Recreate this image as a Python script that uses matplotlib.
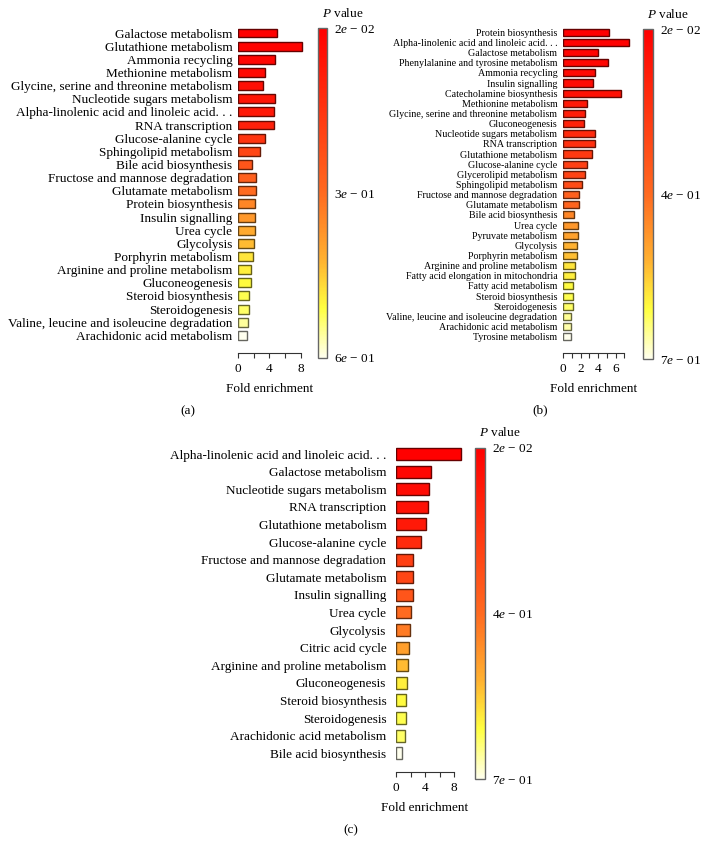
import numpy as np
import matplotlib
matplotlib.use('Agg')
import matplotlib.pyplot as plt
from matplotlib.colors import LinearSegmentedColormap, Normalize
from matplotlib.cm import ScalarMappable

plt.rcParams['font.family'] = ['Liberation Serif', 'DejaVu Serif']
plt.rcParams['mathtext.fontset'] = 'custom'
plt.rcParams['mathtext.rm'] = 'Liberation Serif'
plt.rcParams['mathtext.it'] = 'Liberation Serif:italic'

# panel (a)
labels_a = ['Galactose metabolism', 'Glutathione metabolism', 'Ammonia recycling',
            'Methionine metabolism', 'Glycine, serine and threonine metabolism',
            'Nucleotide sugars metabolism', 'Alpha-linolenic acid and linoleic acid. . .',
            'RNA transcription', 'Glucose-alanine cycle', 'Sphingolipid metabolism',
            'Bile acid biosynthesis', 'Fructose and mannose degradation',
            'Glutamate metabolism', 'Protein biosynthesis', 'Insulin signalling',
            'Urea cycle', 'Glycolysis', 'Porphyrin metabolism',
            'Arginine and proline metabolism', 'Gluconeogenesis', 'Steroid biosynthesis',
            'Steroidogenesis', 'Valine, leucine and isoleucine degradation',
            'Arachidonic acid metabolism']
fold_a = [4.96, 8.18, 4.66, 3.48, 3.22, 4.66, 4.58, 4.62, 3.48, 2.8, 1.74, 2.29,
          2.33, 2.2, 2.2, 2.12, 2.03, 1.9, 1.61, 1.61, 1.44, 1.44, 1.27, 1.19]
pval_a = [0.018, 0.030, 0.035, 0.047, 0.059, 0.076, 0.088, 0.105, 0.164, 0.210,
          0.251, 0.280, 0.309, 0.356, 0.385, 0.414, 0.437, 0.484, 0.495, 0.507,
          0.519, 0.530, 0.559, 0.600]
cbar_labels_a = ['2$e$ − 02', '3$e$ − 01', '6$e$ − 01']

# panel (b)
labels_b = ['Protein biosynthesis', 'Alpha-linolenic acid and linoleic acid. . .',
            'Galactose metabolism', 'Phenylalanine and tyrosine metabolism',
            'Ammonia recycling', 'Insulin signalling', 'Catecholamine biosynthesis',
            'Methionine metabolism', 'Glycine, serine and threonine metabolism',
            'Gluconeogenesis', 'Nucleotide sugars metabolism', 'RNA transcription',
            'Glutathione metabolism', 'Glucose-alanine cycle', 'Glycerolipid metabolism',
            'Sphingolipid metabolism', 'Fructose and mannose degradation',
            'Glutamate metabolism', 'Bile acid biosynthesis', 'Urea cycle',
            'Pyruvate metabolism', 'Glycolysis', 'Porphyrin metabolism',
            'Arginine and proline metabolism', 'Fatty acid elongation in mitochondria',
            'Fatty acid metabolism', 'Steroid biosynthesis', 'Steroidogenesis',
            'Valine, leucine and isoleucine degradation', 'Arachidonic acid metabolism',
            'Tyrosine metabolism']
fold_b = [5.3, 7.5, 4.0, 5.1, 3.65, 3.46, 6.58, 2.74, 2.54, 2.43, 3.65, 3.65, 3.31,
          2.74, 2.54, 2.2, 1.82, 1.82, 1.29, 1.67, 1.67, 1.56, 1.56, 1.33, 1.33,
          1.1, 1.1, 1.1, 0.95, 0.95, 0.87]
pval_b = [0.018, 0.025, 0.032, 0.038, 0.052, 0.059, 0.073, 0.100, 0.113, 0.127,
          0.154, 0.168, 0.202, 0.223, 0.236, 0.264, 0.325, 0.339, 0.414, 0.448,
          0.468, 0.495, 0.516, 0.564, 0.577, 0.591, 0.605, 0.618, 0.645, 0.659, 0.700]
cbar_labels_b = ['2$e$ − 02', '4$e$ − 01', '7$e$ − 01']

# panel (c)
labels_c = ['Alpha-linolenic acid and linoleic acid. . .', 'Galactose metabolism',
            'Nucleotide sugars metabolism', 'RNA transcription', 'Glutathione metabolism',
            'Glucose-alanine cycle', 'Fructose and mannose degradation',
            'Glutamate metabolism', 'Insulin signalling', 'Urea cycle', 'Glycolysis',
            'Citric acid cycle', 'Arginine and proline metabolism', 'Gluconeogenesis',
            'Steroid biosynthesis', 'Steroidogenesis', 'Arachidonic acid metabolism',
            'Bile acid biosynthesis']
fold_c = [8.92, 4.83, 4.51, 4.41, 4.1, 3.4, 2.39, 2.3, 2.3, 2.07, 1.98, 1.84, 1.61,
          1.56, 1.33, 1.33, 1.2, 0.83]
pval_c = [0.018, 0.038, 0.059, 0.073, 0.100, 0.154, 0.223, 0.243, 0.291, 0.359,
          0.393, 0.461, 0.509, 0.577, 0.591, 0.605, 0.618, 0.700]
cbar_labels_c = ['2$e$ − 02', '4$e$ − 01', '7$e$ − 01']

cmap = LinearSegmentedColormap.from_list(
    'pv', [(0, '#ff0000'), (0.5, '#ff6a20'), (0.7, '#ffb030'),
           (0.85, '#ffff40'), (1, '#ffffee')])

W, H = 705, 857


def rect(left, top, right, bottom):
    return [left / W, 1 - bottom / H, (right - left) / W, (bottom - top) / H]


def panel(labels, fold, pvals, cbar_labels, letter, main_px, xmax, ypad, xticks,
          xticklabels, fsize, bar_h, cbar_px, letter_px, label_pad):
    fig = plt.gcf()
    ax = fig.add_axes(rect(*main_px))
    norm = Normalize(min(pvals), max(pvals))
    cols = cmap(norm(pvals))
    edges = cols.copy()
    edges[:, :3] = edges[:, :3] * 0.4
    y = np.arange(len(labels))
    ax.barh(y, fold, height=bar_h, color=cols, edgecolor=edges, linewidth=1.0)
    ax.set_xlim(0, xmax)
    ax.set_ylim(len(labels) - 1 + ypad, -0.7)
    ax.set_yticks(y)
    ax.set_yticklabels(labels, fontsize=fsize)
    ax.tick_params(axis='y', length=0, pad=label_pad)
    for s in ['top', 'right', 'left']:
        ax.spines[s].set_visible(False)
    ax.spines['bottom'].set_bounds(xticks[0], xticks[-1])
    ax.spines['bottom'].set_color('#333333')
    ax.set_xticks(xticks)
    ax.set_xticklabels(xticklabels, fontsize=9.5)
    ax.tick_params(axis='x', length=3.6, color='#333333', pad=3.5)
    ax.annotate('Fold enrichment', xy=((xticks[0] + xticks[-1]) / 2, 0),
                xycoords=('data', 'axes fraction'), xytext=(0, -36),
                textcoords='offset pixels', ha='center', va='center', fontsize=9.5)

    cax = fig.add_axes(rect(*cbar_px))
    cb = fig.colorbar(ScalarMappable(norm=norm, cmap=cmap), cax=cax)
    cax.invert_yaxis()
    cb.outline.set_edgecolor('#666666')
    cb.outline.set_linewidth(1.0)
    vmin, vmax = min(pvals), max(pvals)
    cb.set_ticks([vmin, (vmin + vmax) / 2, vmax])
    cb.set_ticklabels(cbar_labels)
    cax.tick_params(length=0, pad=5, labelsize=9.5)
    cax.annotate('$P$ value', xy=(0, 1), xycoords='axes fraction', xytext=(4, 15),
                 textcoords='offset pixels', ha='left', va='center', fontsize=9.5)
    fig.text(letter_px[0] / W, 1 - letter_px[1] / H, letter, ha='center',
             va='center', fontsize=9.5)


fig = plt.figure(figsize=(7.05, 8.57), dpi=100)

panel(labels_a, fold_a, pval_a, cbar_labels_a, '(a)',
      (238, 23.8, 238 + 8.4 * 7.87, 352.7), 8.4, 1.32, [0, 2, 4, 6, 8],
      ['0', '', '4', '', '8'], 9.5, 0.68, (317.7, 28.3, 326.7, 358), (188, 411), 4)
panel(labels_b, fold_b, pval_b, cbar_labels_b, '(b)',
      (563, 25.2, 563 + 7.8 * 8.77, 352.7), 7.8, 1.58, [0, 1, 2, 3, 4, 5, 6, 7],
      ['0', '', '2', '', '4', '', '6', ''], 7.2, 0.7, (643.3, 29, 652.7, 359.3),
      (540, 410), 4)
panel(labels_c, fold_c, pval_c, cbar_labels_c, '(c)',
      (396, 441.7, 396 + 9.2 * 7.25, 772.3), 9.2, 1.08, [0, 2, 4, 6, 8],
      ['0', '', '4', '', '8'], 9.5, 0.68, (475, 447.7, 485, 779.3), (351, 830), 7)

fig.savefig('out.png', dpi=100)
